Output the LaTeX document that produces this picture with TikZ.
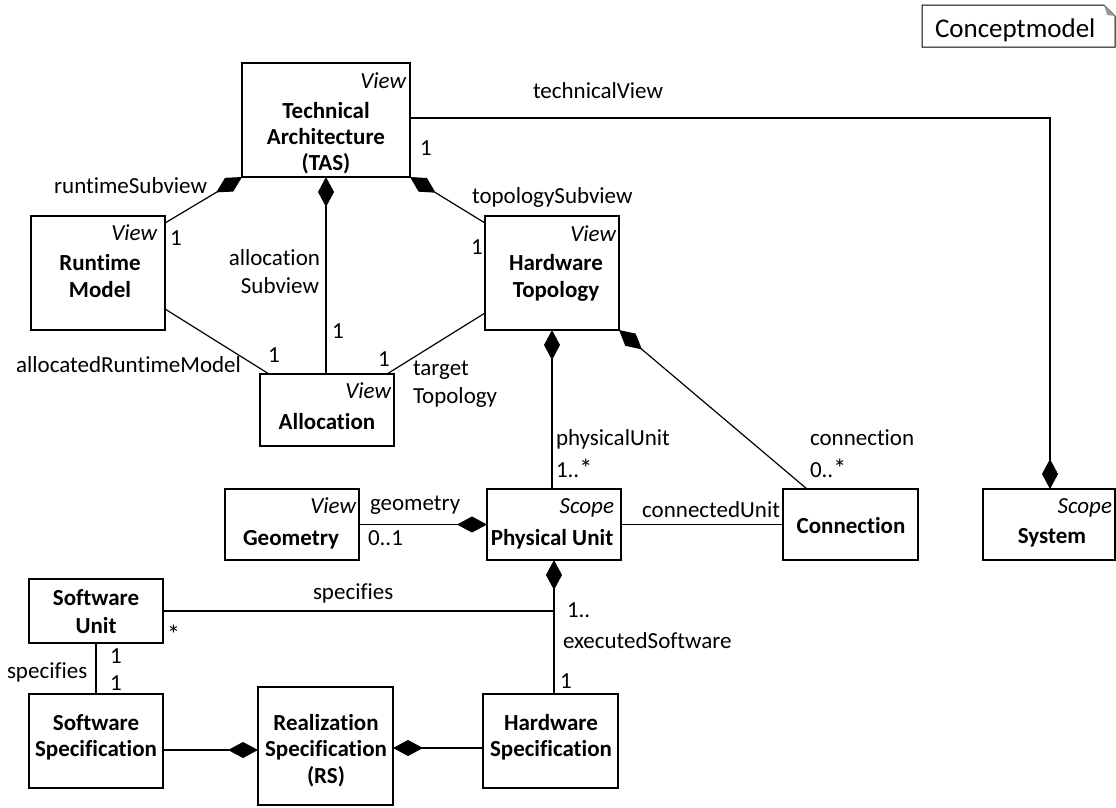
\documentclass[tikz,border=0pt]{standalone}
\usepackage{fontspec}
\setmainfont[Ligatures={NoCommon}]{Carlito}
\usetikzlibrary{arrows.meta,calc}

\begin{document}
\begin{tikzpicture}[x=1pt,y=-1pt,
  every node/.style={font=\fontsize{23}{27}\selectfont, inner sep=0pt, outer sep=0pt},
  box/.style={draw, line width=1.2pt, rectangle, anchor=north west},
  stereo/.style={anchor=base east, font=\fontsize{23}{27}\selectfont\itshape},
  title/.style={anchor=base, font=\fontsize{23}{27}\selectfont\bfseries},
  lbl/.style={anchor=base west},
  lblr/.style={anchor=base east},
  assoc/.style={line width=1.2pt},
  comp/.style={line width=1.2pt, {Diamond[length=30pt,width=16pt]}-}]

\useasboundingbox (0,0) rectangle (1116,807);

% --- frame note -----------------------------------------------------------
\draw[line width=1pt] (922,5) -- (1104,5) -- (1115,16) -- (1115,47) -- (922,47) -- cycle;
\fill[black!40] (1104,5) -- (1107,15) -- (1115,16) -- cycle;
\node[lbl, font=\fontsize{27}{30}\selectfont] (frame) at (935,37) {Conceptmodel};

% --- classes --------------------------------------------------------------
\node[box, minimum width=168, minimum height=114] (tas) at (242,63) {};
\node[stereo] (tas-st) at (406,88) {View};
\node[title] (tas-t1) at (326,118) {Technical};
\node[title] (tas-t2) at (326,144) {Architecture};
\node[title] (tas-t3) at (326,170) {(TAS)};

\node[box, minimum width=134, minimum height=114] (rm) at (31,216) {};
\node[stereo] (rm-st) at (157,240) {View};
\node[title] (rm-t1) at (100,270) {Runtime};
\node[title] (rm-t2) at (100,297) {Model};

\node[box, minimum width=134, minimum height=114] (ht) at (485,216) {};
\node[stereo] (ht-st) at (616,241) {View};
\node[title] (ht-t1) at (556,270) {Hardware};
\node[title] (ht-t2) at (556,297) {Topology};

\node[box, minimum width=134, minimum height=72] (alloc) at (260,374) {};
\node[stereo] (alloc-st) at (391,398) {View};
\node[title] (alloc-t1) at (327,429) {Allocation};

\node[box, minimum width=134, minimum height=71] (geom) at (225,489) {};
\node[stereo] (geom-st) at (356,513) {View};
\node[title] (geom-t1) at (291,545) {Geometry};

\node[box, minimum width=134, minimum height=71] (pu) at (487,489) {};
\node[stereo] (pu-st) at (614,513) {Scope};
\node[title] (pu-t1) at (552,545) {Physical Unit};

\node[box, minimum width=135, minimum height=71] (conn) at (783,489) {};
\node[title] (conn-t1) at (851,533) {Connection};

\node[box, minimum width=132, minimum height=71] (sys) at (983,489) {};
\node[stereo] (sys-st) at (1112,513) {Scope};
\node[title] (sys-t1) at (1052,543) {System};

\node[box, minimum width=134, minimum height=64] (su) at (29,579) {};
\node[title] (su-t1) at (96,605) {Software};
\node[title] (su-t2) at (96,633) {Unit};

\node[box, minimum width=134, minimum height=94] (swspec) at (29,694) {};
\node[title] (swspec-t1) at (96,730) {Software};
\node[title] (swspec-t2) at (96,756) {Specification};

\node[box, minimum width=135, minimum height=118] (rs) at (258,687) {};
\node[title] (rs-t1) at (326,730) {Realization};
\node[title] (rs-t2) at (326,756) {Specification};
\node[title] (rs-t3) at (326,783) {(RS)};

\node[box, minimum width=135, minimum height=94] (hs) at (483,694) {};
\node[title] (hs-t1) at (551,730) {Hardware};
\node[title] (hs-t2) at (551,756) {Specification};

% --- connectors -----------------------------------------------------------
\coordinate (tasR) at ([yshift=2pt]tas.east);
\coordinate (sysTop) at ([xshift=1pt]sys.north);
\draw[comp] (sysTop) |- (tasR);

\draw[comp] (tas.south west) -- ([yshift=-7pt]rm.north east);
\draw[comp] (tas.south) -- (tas.south |- alloc.north);
\draw[comp] (tas.south east) -- ([yshift=-7pt]ht.north west);

\draw[assoc] ([yshift=-36pt]rm.east) -- ([xshift=9pt]alloc.north west);
\draw[assoc] ([xshift=-7pt]alloc.north east) -- ([yshift=-40pt]ht.west);

\draw[comp] (ht.south) -- (ht.south |- pu.north);
\draw[comp] (ht.south east) -- ([xshift=24pt]conn.north west);

\draw[comp] (pu.west) -- (geom.east);
\draw[assoc] (pu.east) -- (conn.west);

\draw[comp] (pu.south) -- (pu.south |- hs.north);
\draw[assoc] (su.east) -- (su.east -| pu.south);
\draw[assoc] (su.south) -- (swspec.north);

\coordinate (swJ) at ([yshift=-9pt]swspec.east);
\draw[comp] (rs.west |- swJ) -- (swJ);
\coordinate (hsJ) at ([yshift=-7pt]hs.west);
\draw[comp] (rs.east |- hsJ) -- (hsJ);

% --- role names and multiplicities ----------------------------------------
\node[lbl] (l-techview) at (533,98) {technicalView};
\node[lbl] (m-techview) at (420,155) {1};

\node[lblr] (l-runtime) at (207,193) {runtimeSubview};
\node[lbl] (m-runtime) at (170,245) {1};

\node[lblr] (l-alloc1) at (320,265) {allocation};
\node[lblr] (l-alloc2) at (319,293) {Subview};
\node[lbl] (m-alloc) at (332,338) {1};

\node[lblr] (l-allocrm) at (241,372) {allocatedRuntimeModel};
\node[lbl] (m-allocrm) at (268,362) {1};

\node[lbl] (m-target) at (378,366) {1};
\node[lbl] (l-target1) at (413,375) {target};
\node[lbl] (l-target2) at (413,403) {Topology};

\node[lbl] (l-topo) at (472,203) {topologySubview};
\node[lbl] (m-topo) at (471,254) {1};

\node[lbl] (l-phys) at (556,445) {physicalUnit};
\node[lbl] (m-phys) at (556,477) {1..{\fontsize{26}{27}\selectfont*}};

\node[lbl] (l-conn) at (810,445) {connection};
\node[lbl] (m-conn) at (810,477) {0..{\fontsize{26}{27}\selectfont*}};

\node[lbl] (l-geom) at (370,510) {geometry};
\node[lbl] (m-geom) at (368,545) {0..1};

\node[lblr] (l-connunit) at (780,517) {connectedUnit};

\node[lbl] (l-spec) at (313,599) {specifies};
\node[lbl, font=\fontsize{26}{27}\selectfont] (m-spec) at (167,643) {*};

\node[lbl] (l-spec2) at (7,678) {specifies};
\node[lbl] (m-spec2a) at (110,663) {1};
\node[lbl] (m-spec2b) at (110,690) {1};

\node[lbl] (m-exec) at (567,617) {1..};
\node[lbl] (l-exec) at (563,648) {executedSoftware};
\node[lbl] (m-exec2) at (560,688) {1};

\end{tikzpicture}
\end{document}
